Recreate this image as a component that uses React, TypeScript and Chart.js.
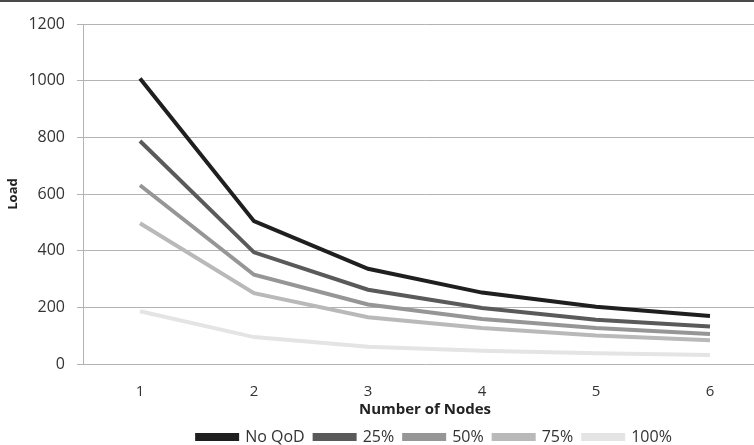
import React, { useEffect, useRef } from "react";
import { Chart, registerables } from "chart.js";

Chart.register(...registerables);

const categories = ["1", "2", "3", "4", "5", "6"];
const seriesNames = ["No QoD", "25%", "50%", "75%", "100%"];
const noQoD = [1008, 504, 336, 252, 202, 169];
const qod25 = [787, 394, 262, 198, 156, 132];
const qod50 = [631, 315, 210, 159, 127, 106];
const qod75 = [497, 250, 165, 127, 101, 84];
const qod100 = [186, 95, 61, 47, 38, 32];
const seriesValues = [noQoD, qod25, qod50, qod75, qod100];
const seriesColors = ["#1f1f1f", "#5a5a5a", "#969696", "#b9b9b9", "#e4e4e4"];
const yTicks = [0, 200, 400, 600, 800, 1000, 1200];

const FONT = "'Open Sans', sans-serif";

const legendShift = {
  id: "legendShift",
  afterLayout(chart: any) {
    if (chart.legend) {
      chart.legend.left += 51;
      chart.legend.right += 51;
    }
  },
};

export default function App() {
  const ref = useRef<HTMLCanvasElement | null>(null);

  useEffect(() => {
    document.body.style.margin = "0";
    document.body.style.overflow = "hidden";
    const canvas = ref.current;
    if (!canvas) return;
    const chart = new Chart(canvas, {
      type: "line",
      data: {
        labels: categories,
        datasets: seriesNames.map((name, i) => ({
          label: name,
          data: seriesValues[i],
          borderColor: seriesColors[i],
          backgroundColor: seriesColors[i],
          borderWidth: 4,
          pointRadius: 0,
          tension: 0,
          fill: false,
        })),
      },
      plugins: [legendShift],
      options: {
        responsive: false,
        animation: false,
        layout: { padding: { top: 24, left: 0, right: 3, bottom: 0 } },
        plugins: {
          tooltip: { enabled: false },
          legend: {
            position: "bottom",
            labels: {
              boxWidth: 40,
              boxHeight: 4,
              padding: 10,
              color: "#333",
              font: { family: FONT, size: 16 },
            },
          },
        },
        scales: {
          x: {
            offset: true,
            afterFit: (scale: any) => {
              scale.height = 55;
            },
            grid: { display: false, drawTicks: false, tickLength: 0 },
            border: { display: false },
            ticks: { color: "#333", padding: 19, font: { family: FONT, size: 15 } },
            title: {
              display: true,
              text: "Number of Nodes",
              color: "#222",
              padding: { top: 0, bottom: 0 },
              font: { family: FONT, size: 15, weight: "bold" },
            },
          },
          y: {
            min: 0,
            max: 1200,
            afterFit: (scale: any) => {
              scale.width = 83;
            },
            afterBuildTicks: (scale: any) => {
              scale.ticks = yTicks.map((v) => ({ value: v }));
            },
            grid: { color: "#b3b3b3", lineWidth: 1, tickLength: 6 },
            border: { color: "#b3b3b3", width: 1 },
            ticks: {
              color: "#333",
              padding: 12,
              font: { family: FONT, size: 16 },
              callback: (v: any) => String(v),
            },
            title: {
              display: true,
              text: "Load",
              color: "#222",
              padding: { top: 5, bottom: 0 },
              font: { family: FONT, size: 13, weight: "bold" },
            },
          },
        },
      },
    });
    return () => chart.destroy();
  }, []);

  return (
    <div style={{ position: "absolute", left: 0, top: 0, width: 754, height: 445, overflow: "hidden", background: "#fff" }}>
      <div style={{ position: "absolute", left: 0, top: 0, width: 754, height: 2, background: "#4a4a4a", zIndex: 1 }} />
      <canvas ref={ref} width={770} height={455} style={{ position: "absolute", left: 0, top: 0, width: 770, height: 455 }} />
    </div>
  );
}
